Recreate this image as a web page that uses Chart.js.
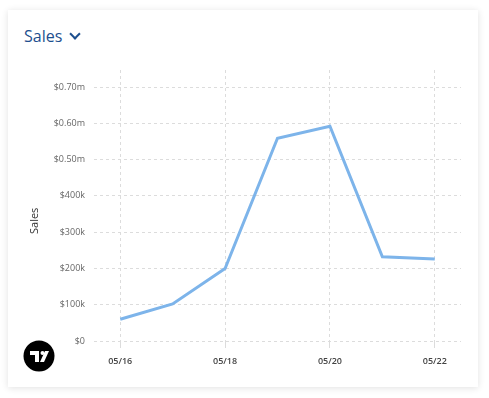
<!DOCTYPE html>
<html>
<head>
<meta charset="utf-8">
<script src="https://cdn.jsdelivr.net/npm/chart.js@4"></script>
<style>
  body { margin: 0; background: #fff; font-family: "Open Sans", sans-serif; }
  .card {
    position: absolute; left: 8px; top: 10px; width: 470px; height: 377px;
    background: #fff; box-shadow: 0 1px 7px rgba(0,0,0,0.12);
  }
  .head {
    position: absolute; left: 16px; top: 15px; font-size: 16px; color: #1d4f8e;
  }
  .chev {
    display: inline-block; width: 6px; height: 6px; margin-left: 9px;
    border-right: 2px solid #1d4f8e; border-bottom: 2px solid #1d4f8e;
    transform: rotate(45deg); position: relative; top: -4px;
  }
  .wrap { position: absolute; left: 0; top: 45px; width: 470px; height: 332px; }
  .ytitle {
    position: absolute; left: 18px; top: 224px; font-size: 11px; color: #333;
    transform: rotate(-90deg); transform-origin: 0 0;
  }
  .logo { position: absolute; left: 15px; top: 330px; }
</style>
</head>
<body>
<div class="card">
  <div class="head">Sales<span class="chev"></span></div>
  <div class="wrap"><canvas id="salesChart"></canvas></div>
  <div class="ytitle">Sales</div>
  <svg class="logo" width="32" height="32" viewBox="0 0 32 32">
    <circle cx="16" cy="16" r="15.5" fill="#000"/>
    <path d="M7 11h9v11h-4v-7H7z" fill="#fff"/>
    <circle cx="19.5" cy="13" r="2" fill="#fff"/>
    <path d="M22 11h4l-5 11h-4z" fill="#fff"/>
  </svg>
</div>
<script>
let days = ["05/16", "05/17", "05/18", "05/19", "05/20", "05/21", "05/22"];
let sales = [60000, 102000, 200000, 559000, 592000, 232000, 226000];
let yTicks = [0, 100000, 200000, 300000, 400000, 500000, 600000, 700000];
let yMax = 747000;

let grid = {
    color: '#dcdcdc',
    lineWidth: 1,
    tickColor: '#dcdcdc'
};

let chart = new Chart(document.getElementById("salesChart"), {
    type: 'line',
    data: {
        labels: days,
        datasets: [{
            label: "Sales",
            data: sales,
            borderColor: '#7db4ea',
            borderWidth: 3,
            pointRadius: 0,
            tension: 0,
            fill: false
        }]
    },
    options: {
        responsive: true,
        maintainAspectRatio: false,
        animation: false,
        layout: { padding: { left: 0, right: 17, top: 15, bottom: 0 } },
        plugins: { legend: { display: false }, tooltip: { enabled: false } },
        scales: {
            x: {
                offset: true,
                border: { display: false, dash: [3, 3] },
                grid: Object.assign({ tickLength: 7, offset: false }, grid),
                ticks: {
                    autoSkip: false,
                    maxRotation: 0,
                    padding: 8,
                    color: '#444',
                    font: { family: 'Open Sans', size: 9, weight: '600' },
                    callback: function (v, i) {
                        return i % 2 === 0 ? days[i] : null;
                    }
                },
                afterFit: function (s) { s.height = 46; }
            },
            y: {
                min: 0,
                max: yMax,
                border: { display: false, dash: [3, 3] },
                grid: Object.assign({ drawTicks: false }, grid),
                afterBuildTicks: function (s) {
                    s.ticks = yTicks.map(v => ({ value: v }));
                },
                ticks: {
                    autoSkip: false,
                    padding: 9,
                    color: '#666',
                    font: { family: 'Open Sans', size: 9 },
                    callback: function (v) {
                        if (v === 0) return "$0";
                        if (v < 500000) return "$" + v / 1000 + "k";
                        return "$" + (v / 1000000).toFixed(2) + "m";
                    }
                },
                afterFit: function (s) { s.width = 86; }
            }
        }
    }
});
</script>
</body>
</html>
